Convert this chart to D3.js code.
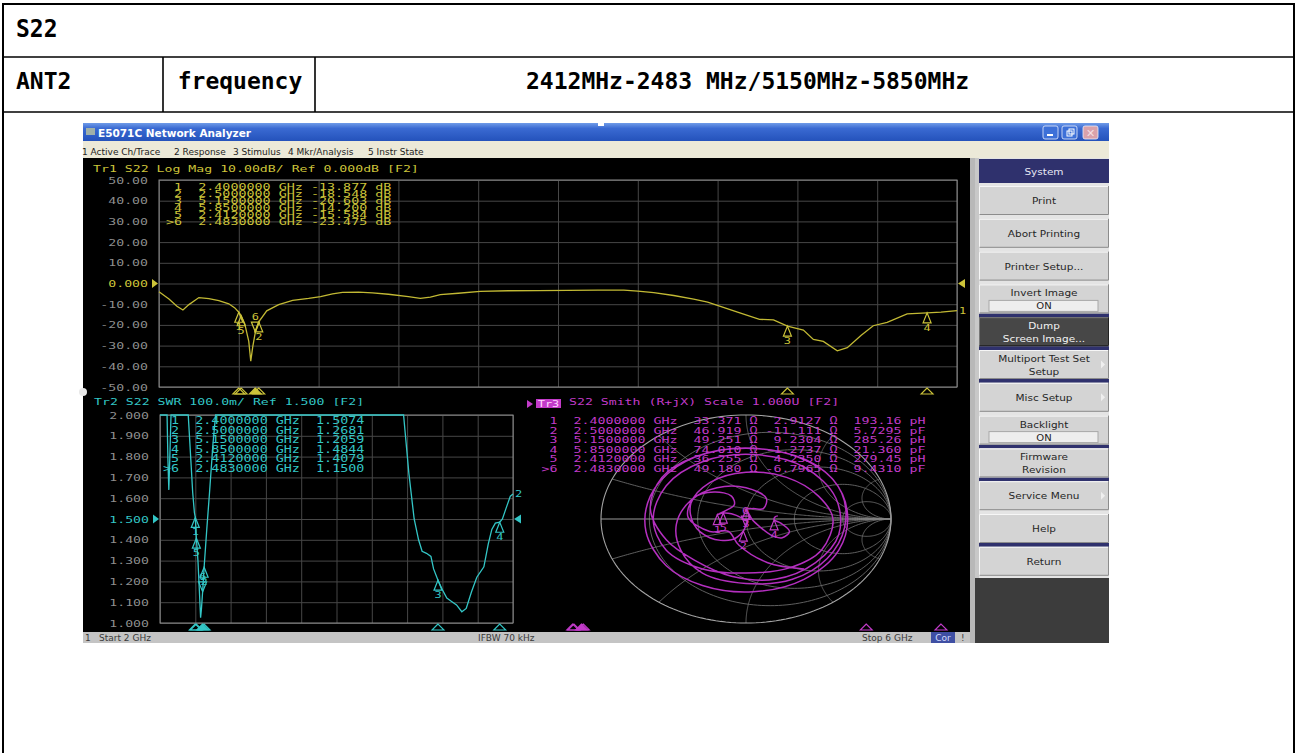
<!DOCTYPE html>
<html><head><meta charset="utf-8">
<script src="https://cdn.jsdelivr.net/npm/d3@7"></script>
<style>html,body{margin:0;padding:0;background:#fff;}svg{display:block;}</style>
</head><body>
<script>
// ================= DATA =================
const docTitle = "S22";
const antLabel = "ANT2";
const freqLabel = "frequency";
const freqRange = "2412MHz-2483 MHz/5150MHz-5850MHz";

const windowTitle = "E5071C Network Analyzer";
const menuItems = ["1 Active Ch/Trace", "2 Response", "3 Stimulus", "4 Mkr/Analysis", "5 Instr State"];
const softkeyHeader = "System";
const softkeys = [["Print"], ["Abort Printing"], ["Printer Setup..."], ["Invert Image", "ON"],
  ["Dump", "Screen Image..."], ["Multiport Test Set", "Setup"], ["Misc Setup"], ["Backlight", "ON"],
  ["Firmware", "Revision"], ["Service Menu"], ["Help"], ["Return"]];
const statusTexts = ["1", "Start 2 GHz", "IFBW 70 kHz", "Stop 6 GHz", "Cor", "!"];

const tr1Title = "Tr1 S22 Log Mag 10.00dB/ Ref 0.000dB [F2]";
const tr2Title = "Tr2 S22 SWR 100.0m/ Ref 1.500 [F2]";
const tr3Title = "S22 Smith (R+jX) Scale 1.000U [F2]";

const freqGridTicks = [2, 2.4, 2.8, 3.2, 3.6, 4, 4.4, 4.8, 5.2, 5.6, 6];
const logMagTicks = [50, 40, 30, 20, 10, 0, -10, -20, -30, -40, -50];
const logMagTickLabels = ["50.00", "40.00", "30.00", "20.00", "10.00", "0.000", "-10.00", "-20.00", "-30.00", "-40.00", "-50.00"];
const swrTicks = [2.0, 1.9, 1.8, 1.7, 1.6, 1.5, 1.4, 1.3, 1.2, 1.1, 1.0];
const swrTickLabels = ["2.000", "1.900", "1.800", "1.700", "1.600", "1.500", "1.400", "1.300", "1.200", "1.100", "1.000"];

const markerIds = ["1", "2", "3", "4", "5", ">6"];
const markerFreqs = [2.4, 2.5, 5.15, 5.85, 2.412, 2.483];
const logMagMarkerValues = [-13.877, -18.548, -20.603, -14.200, -15.584, -23.475];
const swrMarkerValues = [1.5074, 1.2681, 1.2059, 1.4844, 1.4079, 1.1500];
const smithR = [33.371, 46.919, 49.251, 74.010, 36.255, 49.180];
const smithX = [2.9127, -11.111, 9.2304, -1.2737, 4.2350, -6.7965];
const smithLC = [193.16, 5.7295, 285.26, 21.360, 279.45, 9.4310];
const smithLCUnit = ["pH", "pF", "pH", "pF", "pH", "pF"];

// Tr1 log magnitude trace [GHz, dB]
const logMagTrace = [[2.00,-4.0],[2.05,-7.5],[2.09,-11.0],[2.12,-12.8],[2.15,-10.2],[2.20,-6.8],[2.25,-7.3],[2.30,-8.3],
  [2.35,-9.8],[2.38,-11.8],[2.40,-13.877],[2.412,-15.584],[2.43,-19.5],[2.45,-28],[2.46,-37.5],[2.47,-30.5],
  [2.483,-23.475],[2.50,-18.548],[2.54,-13.2],[2.60,-10.2],[2.67,-8.2],[2.75,-7.2],[2.81,-6.3],[2.87,-5.0],
  [2.92,-4.3],[3.00,-4.2],[3.07,-4.5],[3.15,-5.2],[3.25,-6.3],[3.31,-7.2],[3.36,-6.6],[3.41,-5.4],[3.50,-4.7],
  [3.61,-3.8],[3.75,-3.5],[3.90,-3.4],[4.05,-3.3],[4.20,-3.2],[4.33,-3.2],[4.40,-3.7],[4.48,-4.4],[4.58,-5.8],
  [4.68,-7.6],[4.75,-9.0],[4.81,-10.9],[4.90,-13.8],[5.01,-17.3],[5.08,-17.6],[5.15,-20.603],[5.23,-22.5],
  [5.28,-27],[5.33,-28],[5.40,-32.5],[5.45,-31],[5.52,-25],[5.58,-20.4],[5.65,-18.8],[5.75,-14.7],[5.85,-14.2],
  [5.92,-13.8],[6.00,-13.1]];

// Tr2 SWR trace [GHz, SWR]
const swrTrace = [[2.00,3.0],[2.06,2.3],[2.08,2.0],[2.09,1.78],[2.10,1.64],[2.11,1.78],[2.125,2.0],[2.15,2.6],
  [2.20,3.0],[2.28,2.5],[2.32,2.0],[2.35,1.78],[2.37,1.63],[2.39,1.53],[2.40,1.5074],[2.412,1.4079],[2.43,1.30],
  [2.45,1.12],[2.46,1.025],[2.47,1.07],[2.483,1.15],[2.50,1.2681],[2.53,1.45],[2.56,1.62],[2.60,1.86],[2.63,2.0],
  [2.67,2.3],[2.9,4.1],[3.3,2.5],[4.2,5.3],[4.70,2.5],[4.76,2.0],[4.82,1.72],[4.88,1.50],[4.93,1.40],[4.97,1.345],
  [5.02,1.335],[5.07,1.32],[5.10,1.26],[5.15,1.2059],[5.20,1.16],[5.25,1.12],[5.30,1.105],[5.36,1.087],[5.42,1.054],
  [5.47,1.07],[5.53,1.15],[5.59,1.22],[5.67,1.27],[5.72,1.38],[5.76,1.45],[5.80,1.48],[5.85,1.4844],[5.88,1.50],
  [5.92,1.55],[5.97,1.61],[6.00,1.62]];

// Tr3 Smith trace, reflection coefficient [Re, Im], 2 -> 6 GHz
const smithTrace = [[0.40,-0.48],[0.15,-0.42],[-0.05,-0.25],[-0.12,-0.12],[-0.25,-0.12],[-0.40,0.02],[-0.36,0.20],
  [-0.22,0.26],[-0.10,0.22],[-0.08,0.14],[-0.14,0.08],[-0.198,0.042],[-0.157,0.057],[-0.10,0.05],[-0.03,0.01],
  [0.01,-0.03],[-0.003,-0.069],[-0.019,-0.117],[-0.10,-0.20],[-0.25,-0.18],[-0.36,-0.05],[-0.38,0.15],[-0.25,0.35],
  [0.0,0.45],[0.28,0.40],[0.50,0.22],[0.60,0.0],[0.52,-0.30],[0.30,-0.47],[0.0,-0.52],[-0.30,-0.48],[-0.55,-0.30],
  [-0.64,0.0],[-0.55,0.32],[-0.30,0.55],[0.05,0.62],[0.40,0.50],[0.62,0.20],[0.64,-0.15],[0.48,-0.42],[0.20,-0.58],
  [-0.10,-0.55],[-0.35,-0.40],[-0.55,-0.20],[-0.66,0.10],[-0.58,0.40],[-0.35,0.60],[0.0,0.68],[0.35,0.60],[0.60,0.38],
  [0.70,0.05],[0.64,-0.30],[0.40,-0.58],[0.05,-0.70],[-0.30,-0.64],[-0.55,-0.45],[-0.69,-0.12],[-0.66,0.22],
  [-0.48,0.50],[-0.18,0.66],[0.18,0.66],[0.48,0.52],[0.66,0.25],[0.68,-0.08],[0.56,-0.38],[0.32,-0.58],[0.0,-0.62],
  [-0.30,-0.52],[-0.45,-0.30],[-0.48,-0.05],[-0.38,0.18],[-0.20,0.30],[0.0,0.30],[0.14,0.20],[0.12,0.10],[0.05,0.10],
  [0.001,0.093],[0.02,0.05],[0.04,0.0],[0.10,-0.08],[0.18,-0.16],[0.25,-0.18],[0.30,-0.12],[0.24,-0.04],
  [0.194,-0.008],[0.20,0.02],[0.22,0.03]];

const smithRCircles = [0.2, 0.5, 1, 2, 5];
const smithXArcs = [0.2, 0.5, 1, 2, 5];

// ================= DRAWING =================
const YEL = "#cdc43a", YELT = "#c2b934", CYN = "#33c6c6", MAG = "#c23bc9", MAGT = "#b42fbf";
const GRID = "#474747", FRAME = "#8c8c8c", LBL = "#8e8e8e";
const MONO = "DejaVu Sans Mono", SANS = "DejaVu Sans";

const svg = d3.select("body").append("svg").attr("width", 1296).attr("height", 753);
svg.append("rect").attr("width", 1296).attr("height", 753).attr("fill", "#fff");

function stext(g, x, y, s, o = {}) {
  const t = g.append("text")
    .attr("transform", `translate(${x},${y}) scale(${o.sx || 1},${o.sy || 1})`)
    .attr("font-family", o.family || MONO)
    .attr("font-size", o.size || 13.2)
    .attr("fill", o.fill || "#000")
    .attr("text-anchor", o.anchor || "start")
    .style("white-space", "pre")
    .text(s);
  if (o.weight) t.attr("font-weight", o.weight);
  return t;
}

// ---------- document table ----------
const doc = svg.append("g");
doc.append("rect").attr("x", 3).attr("y", 4).attr("width", 1291).attr("height", 760)
  .attr("fill", "none").attr("stroke", "#000").attr("stroke-width", 2);
[[3, 57, 1294, 57], [3, 112, 1294, 112], [163, 57, 163, 112], [315, 57, 315, 112]].forEach(l =>
  doc.append("line").attr("x1", l[0]).attr("y1", l[1]).attr("x2", l[2]).attr("y2", l[3])
    .attr("stroke", "#000").attr("stroke-width", 1.6));
stext(doc, 16, 37, docTitle, { size: 23, weight: "bold", sy: 1.05 });
stext(doc, 16, 89, antLabel, { size: 23, weight: "bold" });
stext(doc, 240, 89, freqLabel, { size: 23, weight: "bold", anchor: "middle" });
stext(doc, 526, 89, freqRange, { size: 23, weight: "bold" });

// ---------- analyzer window ----------
const an = svg.append("g");
const defs = svg.append("defs");
const tb = defs.append("linearGradient").attr("id", "tb").attr("x1", 0).attr("y1", 0).attr("x2", 0).attr("y2", 1);
tb.append("stop").attr("offset", "0%").attr("stop-color", "#6f9be8");
tb.append("stop").attr("offset", "30%").attr("stop-color", "#3a6ad2");
tb.append("stop").attr("offset", "100%").attr("stop-color", "#2452bb");

an.append("rect").attr("x", 83).attr("y", 123).attr("width", 1026).attr("height", 18).attr("fill", "url(#tb)");
an.append("rect").attr("x", 86).attr("y", 128).attr("width", 9).attr("height", 7).attr("fill", "#9fb0a8");
an.append("text").attr("x", 98).attr("y", 137).attr("font-family", SANS).attr("font-weight", "bold")
  .attr("font-size", 10.5).attr("fill", "#fff").text(windowTitle);
an.append("rect").attr("x", 598).attr("y", 123).attr("width", 6).attr("height", 3).attr("fill", "#fff");
[[1043, "#3d70d8"], [1062, "#3d70d8"], [1083, "#d9a2ab"]].forEach(b => {
  an.append("rect").attr("x", b[0]).attr("y", 126).attr("width", 15).attr("height", 13).attr("rx", 2)
    .attr("fill", b[1]).attr("stroke", "#e8eefc").attr("stroke-width", 0.8);
});
an.append("rect").attr("x", 1047).attr("y", 134).attr("width", 6).attr("height", 2).attr("fill", "#fff");
an.append("rect").attr("x", 1067).attr("y", 131).attr("width", 5).attr("height", 5).attr("fill", "none").attr("stroke", "#fff");
an.append("rect").attr("x", 1069).attr("y", 129).attr("width", 5).attr("height", 5).attr("fill", "none").attr("stroke", "#fff");
an.append("text").attr("x", 1090.5).attr("y", 137).attr("text-anchor", "middle").attr("font-family", SANS)
  .attr("font-size", 11).attr("fill", "#f4dfe3").text("✕");

// menu bar
an.append("rect").attr("x", 83).attr("y", 141).attr("width", 1026).attr("height", 17).attr("fill", "#ece9d8");
const menuX = [82, 174, 233, 288, 368];
menuItems.forEach((m, i) => an.append("text").attr("x", menuX[i]).attr("y", 155).attr("font-family", SANS)
  .attr("font-size", 9).attr("fill", "#222").text(m));

// display area
an.append("rect").attr("x", 83).attr("y", 158).attr("width", 887).attr("height", 474).attr("fill", "#000");
an.append("rect").attr("x", 970).attr("y", 158).attr("width", 5).attr("height", 485).attr("fill", "#b8b8b8");
an.append("circle").attr("cx", 83).attr("cy", 392).attr("r", 4).attr("fill", "#e8e8e8");

// status bar
an.append("rect").attr("x", 83).attr("y", 632).attr("width", 887).attr("height", 11).attr("fill", "#c4c4c4");
an.append("rect").attr("x", 931).attr("y", 632).attr("width", 24).attr("height", 11).attr("fill", "#3f4fa3");
const st = an.append("g").attr("font-family", SANS).attr("font-size", 9).attr("fill", "#3a3a3a");
st.append("text").attr("x", 85).attr("y", 641).text(statusTexts[0]);
st.append("text").attr("x", 99).attr("y", 641).text(statusTexts[1]);
st.append("text").attr("x", 478).attr("y", 641).text(statusTexts[2]);
st.append("text").attr("x", 862).attr("y", 641).text(statusTexts[3]);
st.append("text").attr("x", 943).attr("y", 641).attr("text-anchor", "middle").attr("fill", "#d4daff").text(statusTexts[4]);
st.append("text").attr("x", 961).attr("y", 641).text(statusTexts[5]);

// soft key panel
const pn = an.append("g");
pn.append("rect").attr("x", 975).attr("y", 158).attr("width", 134).attr("height", 485).attr("fill", "#e4e4e4");
pn.append("rect").attr("x", 975).attr("y", 158).attr("width", 4).attr("height", 420).attr("fill", "#c8c8c8");
pn.append("rect").attr("x", 979).attr("y", 159).attr("width", 130).attr("height", 24).attr("fill", "#2f316d");
stext(pn, 1044, 175, softkeyHeader, { family: SANS, size: 10.5, fill: "#e8e8f4", anchor: "middle", sy: 0.9 });
const navyAfter = [3, 4, 5, 7, 8, 10];
softkeys.forEach((lines, i) => {
  const y0 = 186 + i * 32.8, h = 29;
  const dark = lines[0] === "Dump";
  if (navyAfter.includes(i)) pn.append("rect").attr("x", 979).attr("y", y0 + h).attr("width", 130).attr("height", 3.8).attr("fill", "#2f316d");
  pn.append("rect").attr("x", 979).attr("y", y0).attr("width", 129).attr("height", h).attr("fill", dark ? "#474747" : "#d4d4d4");
  pn.append("path").attr("d", `M979.5,${y0 + h}V${y0 + 0.5}H1108`).attr("fill", "none").attr("stroke", dark ? "#777" : "#f6f6f6");
  pn.append("path").attr("d", `M979.5,${y0 + h - 0.5}H1108.5V${y0}`).attr("fill", "none").attr("stroke", dark ? "#222" : "#8c8c8c");
  const col = dark ? "#f2f2f2" : "#262626";
  if (lines[1] === "ON") {
    pn.append("rect").attr("x", 989).attr("y", y0 + 16).attr("width", 109).attr("height", 11).attr("fill", "#eeeeee").attr("stroke", "#a8a8a8");
    stext(pn, 1044, y0 + 12, lines[0], { family: SANS, size: 10.5, fill: col, anchor: "middle", sy: 0.85 });
    stext(pn, 1044, y0 + 25, "ON", { family: SANS, size: 10, fill: col, anchor: "middle", sy: 0.85 });
  } else if (lines.length === 2) {
    stext(pn, 1044, y0 + 12, lines[0], { family: SANS, size: 10.5, fill: col, anchor: "middle", sy: 0.85 });
    stext(pn, 1044, y0 + 25, lines[1], { family: SANS, size: 10.5, fill: col, anchor: "middle", sy: 0.85 });
  } else {
    stext(pn, 1044, y0 + 18, lines[0], { family: SANS, size: 10.5, fill: col, anchor: "middle", sy: 0.85 });
  }
  if (["Multiport Test Set", "Misc Setup", "Service Menu"].includes(lines[0])) {
    const yc = y0 + h / 2;
    pn.append("path").attr("d", `M1101,${yc - 4}L1105,${yc}L1101,${yc + 4}Z`).attr("fill", "#efefef");
  }
});
pn.append("rect").attr("x", 975).attr("y", 578).attr("width", 134).attr("height", 65).attr("fill", "#3c3c3c");

// ---------- generic rectangular channel ----------
function drawMarker(g, x, y, label, active, color) {
  if (active) {
    g.append("path").attr("d", `M${x},${y}L${x - 4},${y - 10}L${x + 4},${y - 10}Z`).attr("fill", "none").attr("stroke", color).attr("stroke-width", 1.2);
    stext(g, x, y - 12, label, { fill: color, anchor: "middle", sy: 0.72, size: 12 });
  } else {
    g.append("path").attr("d", `M${x},${y}L${x - 4},${y + 10}L${x + 4},${y + 10}Z`).attr("fill", "none").attr("stroke", color).attr("stroke-width", 1.2);
    stext(g, x, y + 18, label, { fill: color, anchor: "middle", sy: 0.72, size: 12 });
  }
}
function axisMarker(g, x, yb, active, color) {
  g.append("path").attr("d", `M${x},${yb - 6}L${x - 6},${yb}L${x + 6},${yb}Z`)
    .attr("fill", active ? color : "none").attr("stroke", color).attr("stroke-width", 1.1);
}
function rectChart(cfg) {
  const g = svg.append("g");
  const { x, y, x0, x1, y0, y1 } = cfg;
  g.append("g").attr("transform", `translate(0,${y1})`)
    .call(d3.axisBottom(x).tickValues(freqGridTicks).tickSize(-(y1 - y0)).tickFormat(""))
    .call(a => { a.select(".domain").remove(); a.selectAll("line").attr("stroke", GRID); });
  const ya = g.append("g").attr("transform", `translate(${x0},0)`)
    .call(d3.axisLeft(y).tickValues(cfg.ticks).tickSize(-(x1 - x0)).tickPadding(11).tickFormat((d, i) => cfg.labels[i]));
  ya.select(".domain").remove();
  ya.selectAll("line").attr("stroke", GRID);
  ya.selectAll("text").attr("font-family", MONO).attr("font-size", 13.2)
    .attr("fill", (d) => d === cfg.ref ? cfg.color : LBL).attr("transform", "scale(1,0.72)");
  g.append("rect").attr("x", x0).attr("y", y0).attr("width", x1 - x0).attr("height", y1 - y0)
    .attr("fill", "none").attr("stroke", FRAME);
  const yr = y(cfg.ref);
  g.append("path").attr("d", `M${x0 - 7},${yr - 4.5}L${x0 - 1},${yr}L${x0 - 7},${yr + 4.5}Z`).attr("fill", cfg.color);
  g.append("path").attr("d", `M${x1 + 8},${yr - 4.5}L${x1 + 1},${yr}L${x1 + 8},${yr + 4.5}Z`).attr("fill", cfg.color);
  const line = d3.line().x(d => x(d[0])).y(d => y(d[1]));
  g.append("path").datum(cfg.trace).attr("d", line).attr("fill", "none").attr("stroke", cfg.traceColor).attr("stroke-width", 1.3);
  const last = cfg.trace[cfg.trace.length - 1];
  stext(g, x(last[0]) + 2, y(last[1]) + 3, cfg.traceNo, { fill: cfg.color, sy: 0.72, size: 12 });
  markerFreqs.forEach((f, i) => {
    const mx = x(f), my = y(cfg.values[i]);
    drawMarker(g, mx, my, markerIds[i].replace(">", ""), markerIds[i].startsWith(">"), cfg.color);
    axisMarker(g, mx, y1 + 7, markerIds[i].startsWith(">"), cfg.color);
  });
  stext(g, cfg.titleX, cfg.titleY, cfg.title, { fill: cfg.color, sy: 0.72 });
  markerIds.forEach((id, i) => {
    stext(g, cfg.tableX, cfg.tableY + i * cfg.rowH, id.padStart(2, " ") + "  " + cfg.row(i), { fill: cfg.color, sy: cfg.sy, size: 13.4 });
  });
  return g;
}

// Tr1 Log Mag
rectChart({
  x: d3.scaleLinear([2, 6], [159, 957]), y: d3.scaleLinear([-50, 50], [387, 180]),
  x0: 159, x1: 957, y0: 180, y1: 387, ticks: logMagTicks, labels: logMagTickLabels, ref: 0,
  color: YEL, traceColor: YELT, trace: logMagTrace, values: logMagMarkerValues, traceNo: "1",
  title: tr1Title, titleX: 93, titleY: 172, tableX: 166, tableY: 189.5, rowH: 7, sy: 0.62,
  row: i => markerFreqs[i].toFixed(7) + " GHz " + logMagMarkerValues[i].toFixed(3).padStart(7, " ") + " dB"
});

// Tr2 SWR
rectChart({
  x: d3.scaleLinear([2, 6], [160, 513]), y: d3.scaleLinear([1, 2], [623, 415]).clamp(true),
  x0: 160, x1: 513, y0: 415, y1: 623, ticks: swrTicks, labels: swrTickLabels, ref: 1.5,
  color: CYN, traceColor: CYN, trace: swrTrace, values: swrMarkerValues, traceNo: "2",
  title: tr2Title, titleX: 94, titleY: 405, tableX: 163, tableY: 424, rowH: 9.5, sy: 0.72,
  row: i => markerFreqs[i].toFixed(7) + " GHz  " + swrMarkerValues[i].toFixed(4)
});

// ---------- Smith chart ----------
const sm = svg.append("g");
const sx = d3.scaleLinear([-1, 1], [601, 891]);
const sy = d3.scaleLinear([-1, 1], [623, 415]);
const sline = d3.line().x(d => sx(d[0])).y(d => sy(d[1]));
function gamma(r, x) { const d = (r + 1) * (r + 1) + x * x; return [(r * r + x * x - 1) / d, 2 * x / d]; }
const tAll = d3.range(0, 2 * Math.PI + 0.001, Math.PI / 90);
smithRCircles.forEach(r => {
  const c = r / (1 + r), R = 1 / (1 + r);
  sm.append("path").datum(tAll.map(t => [c + R * Math.cos(t), R * Math.sin(t)])).attr("d", sline)
    .attr("fill", "none").attr("stroke", "#6a6a6a").attr("stroke-width", 0.9);
});
const rSamples = d3.range(0, Math.PI / 2, Math.PI / 400).map(t => Math.tan(t));
smithXArcs.forEach(xv => [xv, -xv].forEach(xx => {
  sm.append("path").datum(rSamples.map(r => gamma(r, xx)).concat([[1, 0]])).attr("d", sline)
    .attr("fill", "none").attr("stroke", "#6a6a6a").attr("stroke-width", 0.9);
}));
sm.append("line").attr("x1", sx(-1)).attr("x2", sx(1)).attr("y1", sy(0)).attr("y2", sy(0)).attr("stroke", "#9a9a9a");
sm.append("path").datum(tAll.map(t => [Math.cos(t), Math.sin(t)])).attr("d", sline)
  .attr("fill", "none").attr("stroke", "#a4a4a4").attr("stroke-width", 1.1);
sm.append("path").datum(smithTrace).attr("d", d3.line().x(d => sx(d[0])).y(d => sy(d[1])).curve(d3.curveCatmullRom))
  .attr("fill", "none").attr("stroke", MAGT).attr("stroke-width", 1.5);
const sAxis = d3.scaleLinear([2, 6], [530, 957]);
markerIds.forEach((id, i) => {
  const gm = gamma(smithR[i] / 50, smithX[i] / 50);
  drawMarker(sm, sx(gm[0]), sy(gm[1]), id.replace(">", ""), id.startsWith(">"), MAG);
  axisMarker(sm, sAxis(markerFreqs[i]), 630, id.startsWith(">"), MAG);
});
sm.append("path").attr("d", "M527,400L533,404L527,408Z").attr("fill", MAG);
sm.append("rect").attr("x", 536).attr("y", 399).attr("width", 25).attr("height", 9).attr("fill", MAG);
stext(sm, 548.5, 406.5, "Tr3", { fill: "#ffd4ff", anchor: "middle", sy: 0.72, size: 12 });
stext(sm, 569, 405, tr3Title, { fill: MAG, sy: 0.72 });
markerIds.forEach((id, i) => {
  const s = id.padStart(2, " ") + "  " + markerFreqs[i].toFixed(7) + " GHz  " + smithR[i].toFixed(3) + " Ω " +
    smithX[i].toPrecision(5).padStart(7, " ") + " Ω  " + smithLC[i].toPrecision(5) + " " + smithLCUnit[i];
  stext(sm, 541.5, 424 + i * 9.5, s, { fill: MAG, sy: 0.72, size: 13.3 });
});
</script>
</body></html>
